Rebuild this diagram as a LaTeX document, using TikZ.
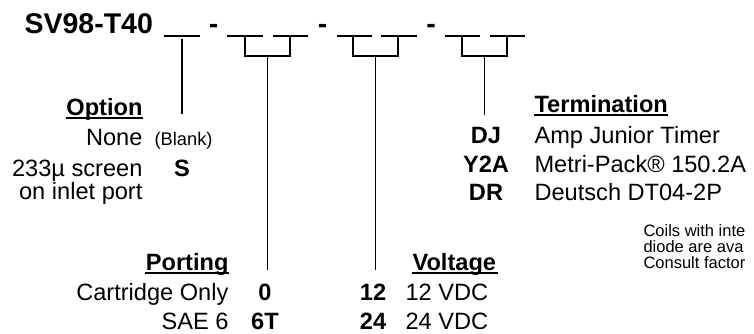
\documentclass[tikz,border=0pt]{standalone}
\usepackage{fontspec}
\setmainfont{Liberation Sans}
\begin{document}
\begin{tikzpicture}[x=1pt, y=-1pt, line width=1.1pt,
    title/.style={font=\fontsize{28.5}{28}\selectfont\bfseries, inner sep=0pt, anchor=base},
    head/.style={font=\fontsize{23.6}{24}\selectfont\bfseries, inner sep=0pt},
    txt/.style={font=\fontsize{23.6}{24}\selectfont, inner sep=0pt},
    code/.style={font=\fontsize{23.6}{24}\selectfont\bfseries, inner sep=0pt, anchor=base},
    small/.style={font=\fontsize{18.3}{19}\selectfont, inner sep=0pt},
    note/.style={font=\fontsize{16.5}{16}\selectfont, inner sep=0pt, anchor=base west},
    uline/.style={line width=1.3pt}]
    \useasboundingbox (0,0) rectangle (754,333);

    % part number
    \node[title, anchor=base west] (pn) at (24,33) {SV98-T40};
    \foreach \x [count=\i] in {213.5, 322.5, 431}
        \node[title] (dash\i) at (\x,33) {-};
    \foreach \a/\b in {164/200, 227/263, 273/308, 337/372, 381/417, 445/480, 490/525}
        \draw (\a,36) -- (\b,36);

    % brackets
    \coordinate (opt top) at (182,39);
    \coordinate (opt end) at (182,114);
    \draw (opt top) -- (opt end);
    \foreach \n/\l/\r/\e in {port/245/290/270, volt/353/398/270, term/462/507/115} {
        \coordinate (\n L) at (\l,36);
        \coordinate (\n R) at (\r,36);
        \coordinate (\n M) at ({(\l+\r)/2},56);
        \coordinate (\n E) at ({(\l+\r)/2},\e);
        \draw (\n L) |- (\n M) -| (\n R);
        \draw (\n M) -- (\n E);
    }

    % Option
    \node[head, anchor=base east] (opt) at (143,115) {Option};
    \draw[uline] ([yshift=-3pt]opt.base west) -- ([yshift=-3pt]opt.base east);
    \node[txt, anchor=base east] (none) at (143,145) {None};
    \node[small, anchor=base west] (blank) at (154,145) {(Blank)};
    \node[txt, anchor=base east] (scr) at (143,176) {233µ screen};
    \node[txt, anchor=base east] (inlet) at (143,199) {on inlet port};
    \node[code] (S) at (182,176) {S};

    % Porting
    \node[head, anchor=base east] (port) at (229,270) {Porting};
    \draw[uline] ([yshift=-3pt]port.base west) -- ([yshift=-3pt]port.base east);
    \node[txt, anchor=base east] (cart) at (229,300) {Cartridge Only};
    \node[txt, anchor=base east] (sae) at (229,329) {SAE 6};
    \node[code] (p0) at (265,300) {0};
    \node[code] (p6T) at (265,329) {6T};

    % Voltage
    \node[head, anchor=base west] (volt) at (412,270) {Voltage};
    \draw[uline] ([yshift=-3pt]volt.base west) -- ([yshift=-3pt,xshift=1pt]volt.base east);
    \node[code] (v12) at (373,300) {12};
    \node[code] (v24) at (373,329) {24};
    \node[txt, anchor=base west] (vdc12) at (405,300) {12 VDC};
    \node[txt, anchor=base west] (vdc24) at (405,329) {24 VDC};

    % Termination
    \node[head, anchor=base west] (term) at (534,112) {Termination};
    \draw[uline] ([yshift=-3pt]term.base west) -- ([yshift=-3pt]term.base east);
    \node[code] (DJ) at (486,143) {DJ};
    \node[code] (Y2A) at (486,172) {Y2A};
    \node[code] (DR) at (486,200) {DR};
    \node[txt, anchor=base west] (amp) at (534,143) {Amp Junior Timer};
    \node[txt, anchor=base west] (metri) at (534,172) {Metri-Pack® 150.2A};
    \node[txt, anchor=base west] (deut) at (534,200) {Deutsch DT04-2P};

    % note
    \node[note] (note1) at (643,236) {Coils with inte};
    \node[note] (note2) at (643,252) {diode are ava};
    \node[note] (note3) at (643,268) {Consult factor};
\end{tikzpicture}
\end{document}
